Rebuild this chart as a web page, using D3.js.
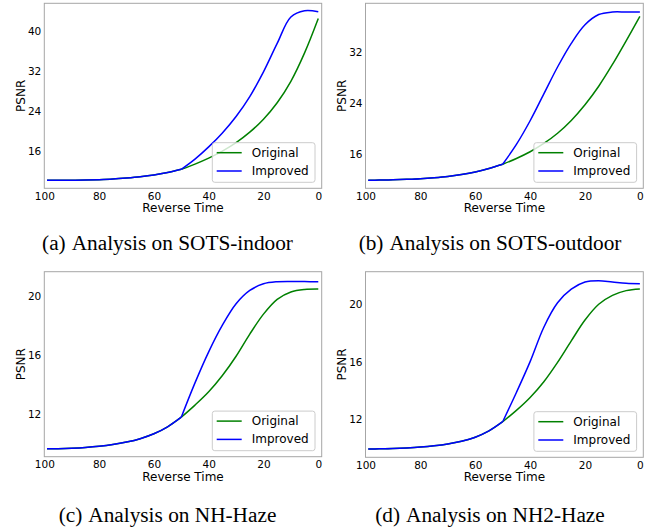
<!DOCTYPE html>
<html>
<head>
<meta charset="utf-8">
<script src="https://cdn.jsdelivr.net/npm/d3@7"></script>
<style>
  body { margin: 0; background: #fff; }
  svg { display: block; }
</style>
</head>
<body>
<div id="chart"></div>
<script>
// reverse time steps shared by every panel
const times = [99, 95, 90, 85, 80, 75, 70, 65, 60, 55, 50, 45, 40, 35, 30, 25, 20, 15, 10, 5, 0];
const xTicks = [100, 80, 60, 40, 20, 0];
const seriesNames = ['Original', 'Improved'];

// (a) SOTS-indoor
const indoorOriginal = [10.15, 10.15, 10.17, 10.2, 10.28, 10.4, 10.6, 10.85, 11.2, 11.7, 12.35, 13.4, 14.6, 16.0, 17.7, 19.8, 22.4, 25.7, 30.0, 35.7, 42.6];
const indoorImproved = [10.15, 10.15, 10.17, 10.2, 10.28, 10.4, 10.6, 10.85, 11.2, 11.7, 12.35, 14.4, 16.85, 19.65, 22.95, 26.95, 31.9, 37.6, 42.9, 44.15, 43.95];
const indoorTicks = [16, 24, 32, 40];

// (b) SOTS-outdoor
const outdoorOriginal = [11.9, 11.92, 11.97, 12.05, 12.15, 12.3, 12.5, 12.8, 13.2, 13.75, 14.4, 15.3, 16.35, 17.65, 19.25, 21.25, 23.7, 26.6, 30.0, 33.7, 37.5];
const outdoorImproved = [11.9, 11.92, 11.97, 12.05, 12.15, 12.3, 12.5, 12.8, 13.2, 13.75, 14.4, 17.5, 21.2, 25.4, 29.6, 33.3, 36.2, 37.8, 38.2, 38.2, 38.2];
const outdoorTicks = [16, 24, 32];

// (c) NH-Haze
const nhOriginal = [9.64, 9.65, 9.68, 9.73, 9.81, 9.93, 10.1, 10.33, 10.66, 11.13, 11.78, 12.6, 13.5, 14.6, 15.9, 17.4, 18.75, 19.75, 20.25, 20.42, 20.45];
const nhImproved = [9.64, 9.65, 9.68, 9.73, 9.81, 9.93, 10.1, 10.33, 10.66, 11.13, 11.78, 14.1, 16.2, 18.0, 19.45, 20.35, 20.8, 20.94, 20.96, 20.95, 20.94];
const nhTicks = [12, 16, 20];

// (d) NH2-Haze
const nh2Original = [9.91, 9.92, 9.94, 9.98, 10.04, 10.13, 10.26, 10.45, 10.73, 11.17, 11.81, 12.6, 13.5, 14.6, 15.95, 17.45, 18.9, 20.0, 20.62, 20.95, 21.07];
const nh2Improved = [9.91, 9.92, 9.94, 9.98, 10.04, 10.13, 10.26, 10.45, 10.73, 11.17, 11.81, 13.85, 16.0, 18.4, 20.1, 21.05, 21.55, 21.64, 21.55, 21.46, 21.43];
const nh2Ticks = [12, 16, 20];

const colours = { Original: '#008000', Improved: '#0000ff' };
const tickFont = 'DejaVu Sans, sans-serif';

const panels = [
  { tag: '(a)', name: 'Analysis on SOTS-indoor', original: indoorOriginal, improved: indoorImproved, ticks: indoorTicks,
    yDomain: [8.54, 45.65], left: 44.3, right: 321.7, top: 3.3, bottom: 188.3, captionX: 167.5, captionY: 250 },
  { tag: '(b)', name: 'Analysis on SOTS-outdoor', original: outdoorOriginal, improved: outdoorImproved, ticks: outdoorTicks,
    yDomain: [10.64, 39.56], left: 365.5, right: 643.3, top: 3.3, bottom: 188.3, captionX: 490, captionY: 250 },
  { tag: '(c)', name: 'Analysis on NH-Haze', original: nhOriginal, improved: nhImproved, ticks: nhTicks,
    yDomain: [9.11, 21.62], left: 44.3, right: 321.7, top: 271.7, bottom: 456.7, captionX: 167.5, captionY: 522 },
  { tag: '(d)', name: 'Analysis on NH2-Haze', original: nh2Original, improved: nh2Improved, ticks: nh2Ticks,
    yDomain: [9.33, 22.27], left: 365.5, right: 643.3, top: 271.7, bottom: 457.3, captionX: 490, captionY: 522 }
];

const svg = d3.select('#chart').append('svg')
  .attr('width', 663)
  .attr('height', 530);

const splitIndex = times.indexOf(50);

const drawPanel = p => {
  const x = d3.scaleLinear().domain([100, -1.25]).range([p.left, p.right]);
  const y = d3.scaleLinear().domain(p.yDomain).range([p.bottom, p.top]);
  const g = svg.append('g');

  // x axis (no tick marks, labels only)
  g.append('g')
    .attr('transform', `translate(0,${p.bottom})`)
    .call(d3.axisBottom(x).tickValues(xTicks).tickSize(0).tickPadding(4).tickFormat(d3.format('d')))
    .call(ax => ax.select('.domain').remove())
    .selectAll('text')
    .style('font-family', tickFont)
    .style('font-size', '10.5px')
    .attr('fill', '#000');

  g.append('g')
    .attr('transform', `translate(${p.left},0)`)
    .call(d3.axisLeft(y).tickValues(p.ticks).tickSize(0).tickPadding(3).tickFormat(d3.format('d')))
    .call(ax => ax.select('.domain').remove())
    .selectAll('text')
    .style('font-family', tickFont)
    .style('font-size', '10.5px')
    .attr('fill', '#000');

  // lines, split at t=50 so the branch point keeps its corner
  const line = d3.line()
    .x(d => x(d[0]))
    .y(d => y(d[1]))
    .curve(d3.curveCatmullRom.alpha(0.5));

  [['Original', p.original], ['Improved', p.improved]].forEach(([key, vals]) => {
    const pts = times.map((t, i) => [t, vals[i]]);
    [pts.slice(0, splitIndex + 1), pts.slice(splitIndex)].forEach(seg => {
      g.append('path')
        .attr('d', line(seg))
        .attr('fill', 'none')
        .attr('stroke', colours[key])
        .attr('stroke-width', 1.5)
        .attr('stroke-linejoin', 'round');
    });
  });

  // frame
  g.append('rect')
    .attr('x', p.left)
    .attr('y', p.top)
    .attr('width', p.right - p.left)
    .attr('height', p.bottom - p.top)
    .attr('fill', 'none')
    .attr('stroke', '#a6a6a6')
    .attr('stroke-width', 1);

  // axis labels
  g.append('text')
    .attr('x', (p.left + p.right) / 2)
    .attr('y', p.bottom + 24)
    .attr('text-anchor', 'middle')
    .style('font-family', tickFont)
    .style('font-size', '12px')
    .text('Reverse Time');

  g.append('text')
    .attr('transform', `translate(${p.left - 23.5},${(p.top + p.bottom) / 2}) rotate(-90)`)
    .attr('text-anchor', 'middle')
    .attr('dominant-baseline', 'central')
    .style('font-family', tickFont)
    .style('font-size', '12px')
    .text('PSNR');

  // legend
  const lw = 102.7;
  const lh = 39.6;
  const lg = g.append('g')
    .attr('transform', `translate(${p.right - 6.7 - lw},${p.bottom - 6 - lh})`);
  lg.append('rect')
    .attr('width', lw)
    .attr('height', lh)
    .attr('rx', 2.5)
    .attr('fill', 'rgba(255,255,255,0.8)')
    .attr('stroke', '#cccccc')
    .attr('stroke-width', 1);
  seriesNames.forEach((s, i) => {
    const ry = 10 + i * 18.3;
    lg.append('line')
      .attr('x1', 4.4).attr('x2', 29.4)
      .attr('y1', ry).attr('y2', ry)
      .attr('stroke', colours[s])
      .attr('stroke-width', 1.5);
    lg.append('text')
      .attr('x', 39.4)
      .attr('y', ry)
      .attr('dominant-baseline', 'central')
      .style('font-family', tickFont)
      .style('font-size', '12px')
      .text(s);
  });

  // caption
  const cap = svg.append('text')
    .attr('x', p.captionX)
    .attr('y', p.captionY)
    .attr('text-anchor', 'middle')
    .style('font-family', 'Liberation Serif, Times New Roman, serif')
    .style('font-size', '21.3px');
  cap.append('tspan').text(p.tag);
  cap.append('tspan').attr('dx', 6).text(p.name);
};

panels.forEach(drawPanel);
</script>
</body>
</html>
